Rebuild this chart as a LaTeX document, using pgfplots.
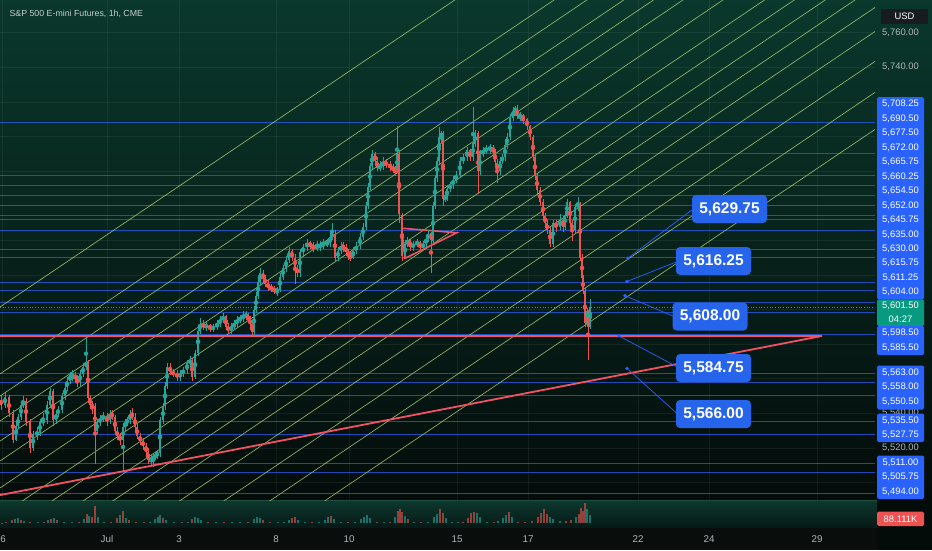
\documentclass[border=0pt]{standalone}
\usepackage{fontspec}
\setmainfont{Liberation Sans}
\usepackage{pgfplots}
\pgfplotsset{compat=1.18}
\usepackage{pgfplotstable}
\definecolor{cup}{RGB}{38,166,154}
\definecolor{cdn}{RGB}{239,83,80}
\definecolor{hblue}{RGB}{41,98,255}
\definecolor{boxblue}{RGB}{38,100,235}
\definecolor{fibg}{RGB}{160,200,115}
\definecolor{tred}{RGB}{242,82,98}
\definecolor{axtxt}{RGB}{178,181,190}
\definecolor{bgtop}{RGB}{10,56,44}
\definecolor{bgmid}{RGB}{6,30,24}
\definecolor{bgbot}{RGB}{4,12,10}
\definecolor{botbg}{RGB}{9,13,12}
\definecolor{voltop}{RGB}{14,56,46}
\definecolor{volbot}{RGB}{6,26,22}
\definecolor{volline}{RGB}{30,80,66}
\definecolor{titlec}{RGB}{200,205,208}
\definecolor{usdbg}{RGB}{24,28,34}
\definecolor{curgreen}{RGB}{8,153,129}
\definecolor{volred}{RGB}{240,82,82}

\pgfplotstableread{
x o h l c
1 5548 5551 5542 5545
5 5545 5552 5543 5549.5
9 5549.5 5551 5538 5540
13 5540 5542 5523 5525
16 5525 5535 5524 5533
18 5533 5540 5531 5538
21 5538 5547 5536 5545
23 5545 5550 5543 5547.5
26 5547.5 5549 5533 5535
30 5535 5537 5517 5520
33 5520 5530 5518 5528
37 5528 5532 5525 5529
40 5529 5537 5527 5535
43 5535 5540 5533 5536
47 5536 5547 5534 5545
50 5545 5555 5543 5553
53 5553 5554 5533 5536
56 5536 5542 5534 5540
58 5540 5544 5538 5542
62 5542 5552 5540 5550
65 5550 5557 5548 5555
67 5555 5561 5553 5559
70 5559 5564 5557 5562
72 5562 5565 5559 5562.5
75 5562.5 5564 5558 5560
77 5560 5562 5555 5558
80 5558 5565 5556 5563
83 5563 5569 5561 5567
86 5567 5584 5565 5570
88 5570 5571 5547 5549
90 5549 5551 5543 5545
92 5545 5547 5540 5544
95 5544 5546 5511 5530
97 5530 5537 5528 5535
100 5535 5539 5533 5537
103 5537 5541 5535 5538
107 5538 5540 5533 5536
110 5536 5542 5534 5540
112 5540 5542 5536 5538
115 5538 5539 5528 5530
117 5530 5532 5525 5527
120 5527 5529 5522 5525
123 5525 5534 5507.5 5532
125 5532 5537 5530 5535
127 5535 5538 5533 5536
130 5536 5542 5534 5540
132 5540 5543 5536 5538
135 5538 5540 5530 5532
137 5532 5534 5525 5527
140 5527 5529 5522 5524
143 5524 5526 5519 5521
146 5521 5523 5516 5518
148 5518 5520 5511 5513
151 5513 5516 5510 5514
153 5514 5517 5509 5515
155 5515 5518 5513 5516
157 5516 5519 5514 5517
160 5517 5538 5515 5536
163 5536 5546 5534 5544
165 5544 5558 5542 5556
167 5556 5569 5554 5567
170 5567 5569 5562 5564
173 5564 5566 5561 5563
177 5563 5565 5559 5561
180 5561 5565 5559 5563
183 5563 5567 5561 5565
187 5565 5571 5563 5569
190 5569 5573 5567 5571
192 5571 5572 5559 5561
195 5561 5577 5560 5575
198 5575 5590 5573 5588
200 5588 5595 5586 5592
203 5592 5594 5588 5590
206 5590 5593 5588 5591
210 5591 5592 5587 5589
213 5589 5592 5587 5590
217 5590 5594 5588 5592
220 5592 5596 5590 5594
223 5594 5598 5592 5596
226 5596 5597 5588 5590
228 5590 5592 5586 5588
231 5588 5592 5586 5590
234 5590 5594 5588 5592
237 5592 5596 5590 5594
240 5594 5597 5592 5595
243 5595 5599 5593 5596.5
246 5596.5 5599 5594 5597
248 5597 5598 5592 5594
250 5594 5596 5590 5592
252 5592 5593 5585 5587
254 5587 5602 5585 5600
256 5600 5610 5598 5608
258 5608 5618 5606 5616
260 5616 5624 5614 5621
263 5621 5623 5616 5618
265 5618 5620 5613 5615
268 5615 5617 5611 5613
271 5613 5615 5610 5612
274 5612 5614 5609 5611
277 5611 5613 5608 5611.5
280 5611.5 5621 5610 5619
283 5619 5626 5617 5624
286 5624 5631 5622 5629
289 5629 5636 5627 5634
292 5634 5635 5628 5630
295 5630 5632 5615 5624
297 5624 5626 5619 5621
300 5621 5635 5619 5633
303 5633 5638 5631 5636
307 5636 5641 5634 5638.5
310 5638.5 5640 5635 5637
313 5637 5639 5633 5636
317 5636 5640 5634 5636.5
320 5636.5 5640 5634 5637
323 5637 5641 5635 5638
327 5638 5641 5636 5638.5
330 5638.5 5645 5636 5642
332 5642 5650 5640 5644
335 5644 5646 5628 5630
338 5630 5636 5628 5634
341 5634 5639 5632 5637
343 5637 5639 5633 5636
346 5636 5638 5631 5633
348 5633 5635 5629 5631
350 5631 5633 5628 5630
353 5630 5636 5629 5634
356 5634 5639 5632 5637
360 5637 5644 5635 5642
363 5642 5650 5640 5648
366 5648 5662 5646 5660
368 5660 5673 5658 5671
370 5671 5685 5669 5683
372 5683 5692 5681 5690
375 5690 5691 5684 5686
377 5686 5688 5680 5682
380 5682 5686 5680 5683
383 5683 5688 5681 5685
386 5685 5687 5682 5684
390 5684 5686 5680 5682
393 5682 5684 5679 5681
395 5681 5683 5677 5680
397 5680 5706 5679 5690
399 5690 5692 5650 5655
402 5655 5656 5628 5631
405 5631 5640 5629 5638
407 5638 5642 5636 5640
410 5640 5641 5634 5636
413 5636 5640 5634 5638
417 5638 5641 5636 5639
420 5639 5640 5634 5636
423 5636 5640 5634 5638
426 5638 5643 5636 5641
428 5641 5646 5639 5644
431 5644 5645 5621 5640
433 5640 5662 5638 5660
435 5660 5678 5658 5676
437 5676 5688 5674 5686
439 5686 5705.5 5684 5700
441 5700 5703 5696 5702
443 5702 5703 5660 5664
445 5664 5668 5662 5665
447 5665 5672 5663 5670
450 5670 5674 5668 5672
453 5672 5677 5670 5675
456 5675 5680 5673 5678
460 5678 5688 5676 5686
463 5686 5690 5684 5688
467 5688 5694 5686 5692
470 5692 5693 5686 5688
473 5688 5717 5686 5696
475 5696 5704 5694 5702
478 5702 5703 5667 5680
480 5680 5692 5678 5690
483 5690 5694 5688 5692
486 5692 5695 5690 5693
490 5693 5696 5690 5693.5
493 5693.5 5695 5689 5692
495 5692 5693 5683 5685
497 5685 5687 5673 5680
500 5680 5688 5678 5686
502 5686 5690 5684 5688
505 5688 5697 5686 5695
507 5695 5702 5693 5700
510 5700 5713 5698 5711
513 5711 5717 5709 5715
515 5715 5718 5712 5716
517 5716 5718 5710 5712
520 5712 5714 5709 5712.5
523 5712.5 5713 5707 5710
527 5710 5711 5704 5706
530 5706 5707 5698 5700
533 5700 5701 5686 5688
535 5688 5690 5675 5677
537 5677 5679 5667 5669
540 5669 5671 5660 5662
543 5662 5664 5652 5654
545 5654 5656 5648 5650
547 5650 5652 5644 5646
550 5646 5648 5636 5638
553 5638 5652 5636 5650
556 5650 5652 5645 5648
560 5648 5655 5646 5652
563 5652 5654 5645 5648
565 5648 5657 5646 5655
567 5655 5664 5653 5662
570 5662 5663 5648 5650
572 5650 5652 5640 5646
575 5646 5661 5644 5659
578 5659 5665 5657 5661
580 5661 5662 5628 5630
582 5630 5632 5616 5618
583 5618 5620 5609 5611
585 5611 5613 5590 5592
587 5592 5601 5590 5599
588 5599 5600 5571 5590
590 5590 5606 5589 5601.5
}\candles

\pgfplotstableread{
x v d
2 8 1
6 10 0
12 30 0
15 45 1
18 50 1
21 35 0
24 20 1
30 10 0
38 9 1
44 12 0
48 30 1
51 45 0
54 50 1
57 30 0
64 10 1
72 12 1
79 10 0
84 40 1
87 90 0
89 70 1
92 60 0
95 170 0
98 60 1
104 15 1
111 12 0
117 50 0
120 80 1
123 120 0
126 50 1
129 35 0
136 12 0
144 14 0
150 16 1
155 40 1
158 60 1
160 80 1
163 50 0
166 35 1
174 12 1
182 12 0
188 15 1
192 40 0
195 60 1
198 55 1
201 30 1
208 12 0
216 10 1
224 10 0
232 12 1
240 10 1
248 12 0
254 40 1
257 60 1
260 50 1
263 30 0
270 12 0
278 12 1
284 14 1
289 30 1
292 50 0
295 60 0
298 35 1
305 12 1
312 10 0
319 12 1
325 35 1
328 60 1
331 70 0
334 40 1
341 12 1
348 14 0
355 12 1
361 40 1
364 60 1
367 80 1
370 50 1
377 16 0
384 14 1
390 18 0
395 60 1
398 120 0
400 140 0
402 110 0
405 70 1
408 40 0
414 14 1
421 15 0
428 18 1
434 60 1
437 90 1
440 140 0
443 100 0
446 50 1
452 16 1
458 14 1
463 18 0
468 50 0
471 100 0
474 110 0
477 100 1
480 60 1
487 16 1
494 18 0
498 20 1
503 50 1
506 80 1
509 110 0
512 60 1
518 16 0
525 14 0
532 20 0
538 60 0
541 100 0
544 140 0
547 90 0
550 60 1
553 40 1
560 20 1
566 22 0
571 30 0
576 60 1
579 90 0
581 150 0
583 120 0
585 205 0
587 140 1
590 88 1
}\vols

\newcommand{\lab}{\fontsize{9.4}{10}\selectfont}
\newcommand{\bigf}{\fontsize{15.5}{17}\selectfont\bfseries}

\begin{document}
\begin{tikzpicture}[x=1pt,y=1pt]
% backgrounds
\shade[top color=bgtop, middle color=bgmid, bottom color=bgbot] (0,50) rectangle (932,550);
\fill[botbg] (0,0) rectangle (932,50);
\fill[bgbot] (877,0) rectangle (932,50);
\shade[top color=voltop, bottom color=volbot] (0,23) rectangle (877,50);
\draw[volline, line width=0.8pt] (0,50) -- (877,50);

\begin{axis}[at={(0pt,50pt)}, anchor=south west, width=875pt, height=500pt,
  scale only axis, xmin=0, xmax=875, ymin=5489.95, ymax=5778.9,
  hide axis, clip=true]
% grid
\pgfplotsinvokeforeach{5500,5520,5540,5560,5580,5600,5620,5640,5660,5680,5700,5720,5740,5760}{
  \addplot[white, opacity=0.06, line width=0.6pt] coordinates {(0,#1) (875,#1)};}
\pgfplotsinvokeforeach{2,107,179,276,349,457,528,638,709,817}{
  \addplot[white, opacity=0.06, line width=0.6pt] coordinates {(#1,5489.95) (#1,5778.9)};}
% horizontal levels
\pgfplotsinvokeforeach{5708.25,5677.5,5672,5665.75,5660.25,5654.5,5652,5645.75,5635,5630,5615.75,5611.25,5604,5598.5,5585.5,5563,5558,5550.5,5535.5,5527.75,5511,5505.75,5494}{
  \addplot[hblue, opacity=0.7, line width=0.9pt] coordinates {(0,#1) (875,#1)};}
\addplot[hblue, opacity=0.7, line width=0.9pt] coordinates {(372,5690.5) (875,5690.5)};
% current price dotted
\addplot[cup, dotted, line width=0.7pt] coordinates {(0,5601.5) (875,5601.5)};
% diagonal channel lines
\pgfplotsset{diag/.style={fibg, opacity=0.9, line width=0.65pt}}
\addplot[diag] coordinates {(0,5601.5) (875,5942.8)};
\addplot[diag] coordinates {(0,5562.8) (875,5904.1)};
\addplot[diag] coordinates {(0,5550.0) (875,5891.3)};
\addplot[diag] coordinates {(0,5535.6) (875,5876.9)};
\addplot[diag] coordinates {(0,5524.0) (875,5865.3)};
\addplot[diag] coordinates {(0,5512.5) (875,5853.8)};
\addplot[diag] coordinates {(0,5496.9) (875,5838.2)};
\addplot[diag] coordinates {(0,5480.7) (875,5822.0)};
\addplot[diag] coordinates {(0,5469.1) (875,5810.4)};
\addplot[diag] coordinates {(0,5457.0) (875,5798.3)};
\addplot[diag] coordinates {(0,5445.4) (875,5786.7)};
\addplot[diag] coordinates {(0,5433.3) (875,5774.6)};
\addplot[diag] coordinates {(0,5419.4) (875,5760.7)};
\addplot[diag] coordinates {(0,5402.1) (875,5743.4)};
\addplot[diag] coordinates {(0,5384.2) (875,5725.5)};
\addplot[diag] coordinates {(0,5362.8) (875,5704.1)};
% red lines
\addplot[tred, line width=1.8pt] coordinates {(0,5584.75) (822,5584.75)};
\addplot[tred, line width=1.8pt] coordinates {(0,5492.8) (822,5584.75)};
\addplot[tred, line width=1.6pt] coordinates {(401.7,5647) (456.7,5644.4) (405,5629.6) (401.7,5647)};
% candles: wicks
\addplot[cup, only marks, mark=none, restrict expr to domain={\thisrow{c}-\thisrow{o}}{0:1000},
  error bars/.cd, y dir=both, y explicit, error mark=none, error bar style={line width=0.65pt}]
  table[x=x, y expr={(\thisrow{h}+\thisrow{l})/2}, y error expr={(\thisrow{h}-\thisrow{l})/2}] {\candles};
\addplot[cdn, only marks, mark=none, restrict expr to domain={\thisrow{c}-\thisrow{o}}{-1000:-0.001},
  error bars/.cd, y dir=both, y explicit, error mark=none, error bar style={line width=0.65pt}]
  table[x=x, y expr={(\thisrow{h}+\thisrow{l})/2}, y error expr={(\thisrow{h}-\thisrow{l})/2}] {\candles};
% candles: bodies
\addplot[cup, only marks, mark=none, restrict expr to domain={\thisrow{c}-\thisrow{o}}{0:1000},
  error bars/.cd, y dir=both, y explicit, error mark=none, error bar style={line width=1.5pt}]
  table[x=x, y expr={(\thisrow{o}+\thisrow{c})/2}, y error expr={max(abs(\thisrow{c}-\thisrow{o})/2,0.4)}] {\candles};
\addplot[cdn, only marks, mark=none, restrict expr to domain={\thisrow{c}-\thisrow{o}}{-1000:-0.001},
  error bars/.cd, y dir=both, y explicit, error mark=none, error bar style={line width=1.5pt}]
  table[x=x, y expr={(\thisrow{o}+\thisrow{c})/2}, y error expr={max(abs(\thisrow{c}-\thisrow{o})/2,0.4)}] {\candles};
% callout leader lines and dots
\addplot[hblue, line width=0.7pt] coordinates {(628,5629.75) (691.7,5657.5)};
\addplot[hblue, line width=0.7pt] coordinates {(627,5616.25) (676.7,5627.6)};
\addplot[hblue, line width=0.7pt] coordinates {(625,5608) (672.7,5596.3)};
\addplot[hblue, line width=0.7pt] coordinates {(619,5584.75) (676.7,5567.0)};
\addplot[hblue, line width=0.7pt] coordinates {(627,5566) (676.7,5540.1)};
\addplot[hblue, only marks, mark=*, mark size=1.5pt] coordinates {(628,5629.75) (627,5616.25) (625,5608) (619,5584.75) (627,5566)};
\end{axis}

% volume panel
\begin{axis}[at={(0pt,26.7pt)}, anchor=south west, width=875pt, height=23.3pt,
  scale only axis, xmin=0, xmax=875, ymin=0, ymax=233, hide axis, clip=true]
\addplot[ycomb, cup, opacity=0.6, line width=1.2pt, restrict expr to domain={\thisrow{d}}{0.5:2}] table[x=x, y=v] {\vols};
\addplot[ycomb, cdn, opacity=0.6, line width=1.2pt, restrict expr to domain={\thisrow{d}}{-1:0.5}] table[x=x, y=v] {\vols};
\end{axis}

% title
\node[anchor=west, text=titlec, font=\fontsize{8.8}{10}\selectfont] at (6,{550-14}) {S\&P 500 E-mini Futures, 1h, CME};

% callout boxes
\node[fill=boxblue, rounded corners=4pt, minimum width=75pt, minimum height=28pt, inner sep=0pt, text=white, font=\bigf] at (729.5,{550-209}) {5,629.75};
\node[fill=boxblue, rounded corners=4pt, minimum width=75pt, minimum height=28pt, inner sep=0pt, text=white, font=\bigf] at (713.5,{550-261}) {5,616.25};
\node[fill=boxblue, rounded corners=4pt, minimum width=75pt, minimum height=28pt, inner sep=0pt, text=white, font=\bigf] at (710,{550-316.5}) {5,608.00};
\node[fill=boxblue, rounded corners=4pt, minimum width=75pt, minimum height=28pt, inner sep=0pt, text=white, font=\bigf] at (713.5,{550-368}) {5,584.75};
\node[fill=boxblue, rounded corners=4pt, minimum width=75pt, minimum height=28pt, inner sep=0pt, text=white, font=\bigf] at (713.5,{550-414}) {5,566.00};

% right price scale
\fill[usdbg] (881,{550-9}) rectangle (928,{550-24});
\node[text=white, font=\lab] at (904.5,{550-16.5}) {USD};
\node[text=axtxt, font=\lab] at (900.5,{550-32.7}) {5,760.00};
\node[text=axtxt, font=\lab] at (900.5,{550-67.3}) {5,740.00};
\node[text=axtxt, font=\lab] at (900.5,{550-412.7}) {5,540.00};
\node[text=axtxt, font=\lab] at (900.5,{550-447.7}) {5,520.00};
\fill[hblue, rounded corners=1.5pt] (877,{550-97.1}) rectangle (924,{550-299.4});
\fill[curgreen, rounded corners=1.5pt] (877,{550-299.4}) rectangle (924,{550-326});
\fill[hblue, rounded corners=1.5pt] (877,{550-326}) rectangle (924,{550-355});
\fill[hblue, rounded corners=1.5pt] (877,{550-365.5}) rectangle (924,{550-409.5});
\fill[hblue, rounded corners=1.5pt] (877,{550-413.5}) rectangle (924,{550-442});
\fill[hblue, rounded corners=1.5pt] (877,{550-455.5}) rectangle (924,{550-499});
\foreach \yy/\lbl in {104.3/5{,}708.25, 118.75/5{,}690.50, 133.2/5{,}677.50, 147.65/5{,}672.00, 162.1/5{,}665.75, 176.55/5{,}660.25, 191.0/5{,}654.50, 205.45/5{,}652.00, 219.9/5{,}645.75, 234.35/5{,}635.00, 248.8/5{,}630.00, 263.25/5{,}615.75, 277.7/5{,}611.25, 292.2/5{,}604.00, 306/5{,}601.50, 319.3/04:27, 332.7/5{,}598.50, 347.7/5{,}585.50, 372.7/5{,}563.00, 387.3/5{,}558.00, 402.3/5{,}550.50, 420.7/5{,}535.50, 435/5{,}527.75, 462.7/5{,}511.00, 477.3/5{,}505.75, 491.7/5{,}494.00}
  {\node[text=white, font=\lab] at (900.5,{550-\yy}) {\lbl};}
\fill[volred, rounded corners=1.5pt] (877,{550-511.7}) rectangle (924,{550-526});
\node[text=white, font=\lab] at (900.5,{550-518.9}) {88.111K};

% time axis labels
\foreach \xx/\lbl in {3/6, 107/Jul, 179/3, 276/8, 349/10, 457/15, 528/17, 638/22, 709/24, 817/29}
  {\node[text=axtxt, font=\fontsize{9.8}{11}\selectfont] at (\xx,{550-539}) {\lbl};}

\pgfresetboundingbox
\useasboundingbox (0,0) rectangle (932,550);
\end{tikzpicture}
\end{document}
